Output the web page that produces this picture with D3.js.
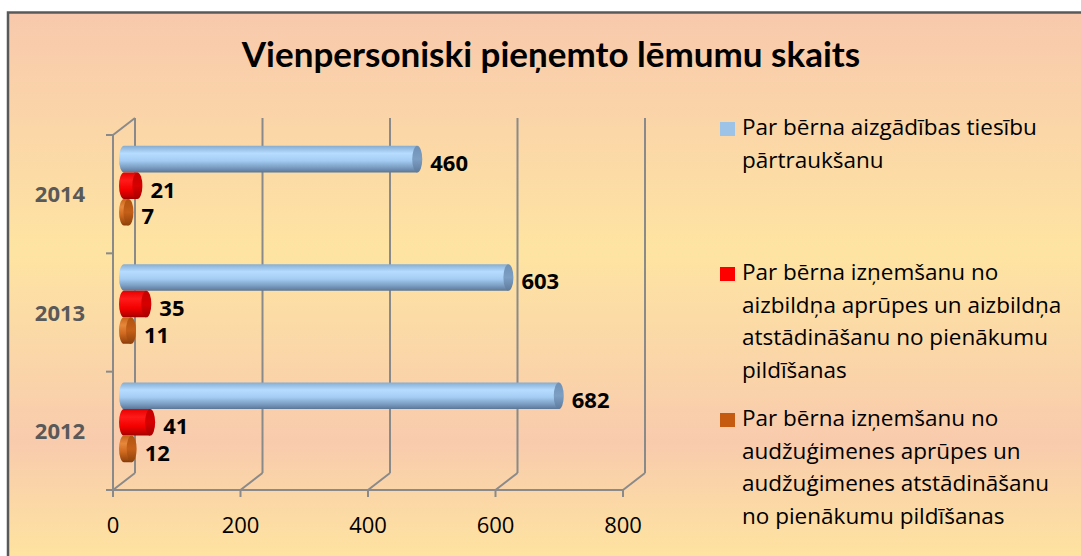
<!DOCTYPE html>
<html>
<head>
<meta charset="utf-8">
<script src="https://cdn.jsdelivr.net/npm/d3@7"></script>
<style>
  html, body { margin: 0; padding: 0; background: #ffffff; }
  svg { display: block; }
</style>
</head>
<body>
<svg id="chart" width="1081" height="556"></svg>
<script>
// ---- data ----
const years = ["2014", "2013", "2012"];
const seriesKeys = ["aizgadiba", "aizbildnis", "audzugimene"];
const aizgadibaValues = [460, 603, 682];
const aizbildnisValues = [21, 35, 41];
const audzugimeneValues = [7, 11, 12];
const xTicks = [0, 200, 400, 600, 800];
const titleText = "Vienpersoniski pieņemto lēmumu skaits";
const legendLines = [
  ["Par bērna aizgādības tiesību", "pārtraukšanu"],
  ["Par bērna izņemšanu no", "aizbildņa aprūpes un aizbildņa", "atstādināšanu no pienākumu", "pildīšanas"],
  ["Par bērna izņemšanu no", "audžuģimenes aprūpes un", "audžuģimenes atstādināšanu", "no pienākumu pildīšanas"]
];

const valuesByKey = {
  aizgadiba: aizgadibaValues,
  aizbildnis: aizbildnisValues,
  audzugimene: audzugimeneValues
};
const rows = years.map((y, i) => ({
  year: y,
  bars: seriesKeys.map(k => ({ key: k, value: valuesByKey[k][i] }))
}));

// ---- layout ----
const svg = d3.select("#chart");
const defs = svg.append("defs");

const depthX = 22, depthY = -17;     // 3D depth offset of the back wall
const gridColor = "#8a8a8a";

const x = d3.scaleLinear().domain([0, 800]).range([113, 623]);
const y = d3.scaleBand().domain(years).range([135, 490]);
const yInner = d3.scaleBand().domain(seriesKeys).range([0, y.bandwidth()]).paddingOuter(0.73);

// background
const bg = defs.append("linearGradient").attr("id", "bgGrad")
  .attr("gradientUnits", "userSpaceOnUse").attr("x1", 0).attr("y1", 12).attr("x2", 0).attr("y2", 556);
[[0, "#f8c9ad"], [0.44, "#fee4a2"], [0.79, "#f8cbad"], [1, "#fee3a0"]].forEach(([o, c]) =>
  bg.append("stop").attr("offset", o).attr("stop-color", c));

svg.append("rect").attr("x", 0).attr("y", 0).attr("width", 1081).attr("height", 556).attr("fill", "#ffffff");
svg.append("rect").attr("x", 8).attr("y", 12.5).attr("width", 1090).attr("height", 560)
  .attr("fill", "url(#bgGrad)").attr("stroke", "#595959").attr("stroke-width", 2.5);

// title
svg.append("text")
  .attr("x", 551).attr("y", 67)
  .attr("text-anchor", "middle")
  .attr("font-family", "Lato, 'Open Sans', sans-serif")
  .attr("font-weight", 700)
  .attr("font-size", 35)
  .attr("fill", "#000")
  .text(titleText);

// ---- 3D frame: back wall gridlines, floor, left wall ----
const frame = svg.append("g").attr("stroke", gridColor).attr("stroke-width", 2).attr("fill", "none");
const yTop = y.range()[0], yBot = y.range()[1];

// back wall vertical gridlines
frame.selectAll("line.grid").data(xTicks).join("line")
  .attr("x1", d => x(d) + depthX).attr("x2", d => x(d) + depthX)
  .attr("y1", yTop + depthY).attr("y2", yBot + depthY);

// floor diagonals
frame.selectAll("line.floor").data(xTicks).join("line")
  .attr("x1", d => x(d)).attr("y1", yBot)
  .attr("x2", d => x(d) + depthX).attr("y2", yBot + depthY);

// floor front edge + tick marks
frame.append("line").attr("x1", x(0)).attr("x2", x(800)).attr("y1", yBot).attr("y2", yBot);
frame.selectAll("line.xtick").data(xTicks).join("line")
  .attr("x1", d => x(d)).attr("x2", d => x(d)).attr("y1", yBot).attr("y2", yBot + 7);

// left wall front edge, top diagonal, category ticks
frame.append("line").attr("x1", x(0)).attr("x2", x(0)).attr("y1", yTop).attr("y2", yBot);
frame.append("line").attr("x1", x(0)).attr("y1", yTop).attr("x2", x(0) + depthX).attr("y2", yTop + depthY);
const catBounds = years.map(d => y(d)).concat([yBot]);
frame.selectAll("line.ytick").data(catBounds).join("line")
  .attr("x1", x(0) - 7).attr("x2", x(0)).attr("y1", d => d).attr("y2", d => d);

// x tick labels
svg.append("g").selectAll("text").data(xTicks).join("text")
  .attr("x", d => x(d)).attr("y", 533)
  .attr("text-anchor", "middle")
  .attr("font-family", "'Open Sans', sans-serif")
  .attr("font-size", 22)
  .attr("fill", "#000")
  .text(d => d);

// category labels
svg.append("g").selectAll("text").data(years).join("text")
  .attr("x", 60).attr("y", d => y(d) + y.bandwidth() / 2 + 8)
  .attr("text-anchor", "middle")
  .attr("font-family", "'Open Sans', sans-serif")
  .attr("font-weight", 700)
  .attr("font-size", 22)
  .attr("fill", "#595959")
  .text(d => d);

// ---- cylinder gradients ----
const palette = {
  aizgadiba: {
    body: [[0, "#86acd3"], [0.28, "#b6ddff"], [0.55, "#a5cdf4"], [0.85, "#7596ba"], [1, "#5b7696"]],
    cap: [[0, "#6f91b6"], [0.5, "#7d9fc4"], [1, "#5d7a9c"]],
    legend: "#9dc3e6"
  },
  aizbildnis: {
    body: [[0, "#e80000"], [0.3, "#ff1a1a"], [0.65, "#f40000"], [0.9, "#c00000"], [1, "#9a0000"]],
    cap: [[0, "#c40000"], [0.5, "#d80000"], [1, "#a80000"]],
    legend: "#ff0000"
  },
  audzugimene: {
    body: [[0, "#c8631a"], [0.3, "#e6883c"], [0.6, "#d06a20"], [0.9, "#9f4a0f"], [1, "#86390a"]],
    cap: [[0, "#b0530f"], [0.5, "#c45f18"], [1, "#8e420b"]],
    legend: "#c55a11"
  }
};
Object.entries(palette).forEach(([k, p]) => {
  ["body", "cap"].forEach(part => {
    const g = defs.append("linearGradient").attr("id", `${k}-${part}`)
      .attr("x1", 0).attr("y1", 0).attr("x2", 0).attr("y2", 1);
    p[part].forEach(([o, c]) => g.append("stop").attr("offset", o).attr("stop-color", c));
  });
});

// ---- bars (horizontal cylinders at mid-depth) ----
const capRx = 5;
const barX0 = x(0) + depthX / 2;
const groups = svg.append("g").selectAll("g").data(rows).join("g")
  .attr("transform", d => `translate(0,${y(d.year) + depthY / 2})`);

groups.each(function (row) {
  const g = d3.select(this);
  row.bars.forEach(b => {
    const top = yInner(b.key);
    const h = yInner.bandwidth();
    const ry = h / 2;
    const xs = barX0;
    const xe = barX0 + (x(b.value) - x(0));
    g.append("path")
      .attr("d", `M${xs},${top} L${xe},${top} L${xe},${top + h} L${xs},${top + h} A${capRx},${ry} 0 0 1 ${xs},${top} Z`)
      .attr("fill", `url(#${b.key}-body)`);
    g.append("ellipse")
      .attr("cx", xe).attr("cy", top + ry).attr("rx", capRx).attr("ry", ry)
      .attr("fill", `url(#${b.key}-cap)`);
    g.append("text")
      .attr("x", xe + capRx + 8).attr("y", top + ry + 12)
      .attr("font-family", "'Open Sans', sans-serif")
      .attr("font-weight", 700)
      .attr("font-size", 22)
      .attr("fill", "#000")
      .text(b.value);
  });
});

// ---- legend ----
const legendStartY = [135, 280, 426];
const lineGap = 32.6;
const legend = svg.append("g");
seriesKeys.forEach((k, i) => {
  const base = legendStartY[i];
  legend.append("rect")
    .attr("x", 720).attr("y", base - 13).attr("width", 15).attr("height", 14)
    .attr("fill", palette[k].legend);
  legend.append("text")
    .attr("font-family", "'Open Sans', sans-serif")
    .attr("font-size", 22.5)
    .attr("fill", "#000")
    .selectAll("tspan").data(legendLines[i]).join("tspan")
    .attr("x", 742).attr("y", (d, j) => base + j * lineGap)
    .text(d => d);
});
</script>
</body>
</html>
